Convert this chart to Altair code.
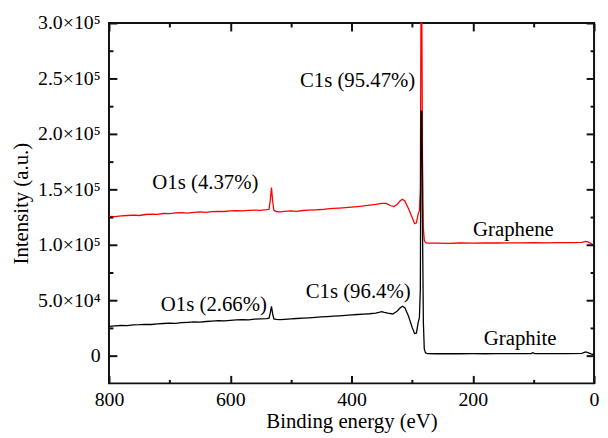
import altair as alt
import pandas as pd

# ---------------- data ----------------
ev_red = [800, 790, 780, 770, 760, 750, 740, 730, 720, 710, 700, 690, 680, 670, 660,
          650, 640, 630, 620, 610, 600, 590, 580, 570, 560, 550, 540, 536, 534, 532,
          530, 528, 524, 518, 510, 500, 490, 480, 470, 460, 450, 440, 430, 420, 410,
          400, 390, 380, 370, 360, 350, 343, 335, 330, 325, 320, 316, 312, 306, 300,
          296, 293, 290, 288, 286.5, 285.5, 284, 283, 281.5, 280, 278, 275, 260, 240,
          220, 200, 180, 160, 140, 120, 100, 80, 60, 40, 20, 14, 10, 5, 0]
int_red = [125500, 125300, 126000, 126400, 126700, 126400, 127300, 127700, 127400, 128200,
           128100, 128700, 128900, 128500, 129300, 129600, 129300, 129900, 130200, 130000,
           130600, 130800, 130500, 131100, 131300, 131000, 131600, 132000, 140000, 151500,
           139000, 131000, 130000, 129700, 130200, 130500, 130200, 130900, 131200, 131500,
           131800, 132400, 132800, 133100, 133500, 134000, 134500, 135100, 135700, 136400,
           137300, 137400, 135200, 134400, 136200, 139500, 141000, 139600, 132500, 124500,
           119000, 119800, 128000, 131000, 150000, 300000, 300000, 180000, 115000, 104000,
           102000, 101400, 101500, 101300, 101600, 101500, 101700, 101600, 101800, 101700,
           101900, 101800, 102000, 101900, 102100, 103000, 102600, 101000, 99500]

ev_black = [800, 790, 780, 770, 760, 750, 740, 730, 720, 710, 700, 690, 680, 670, 660,
            650, 640, 630, 620, 610, 600, 590, 580, 570, 560, 550, 540, 536, 534, 532,
            530, 528, 524, 518, 510, 500, 490, 480, 470, 460, 450, 440, 430, 420, 410,
            400, 390, 380, 370, 360, 350, 346, 340, 332, 325, 320, 316, 312, 306, 300,
            296, 293, 290, 288, 286.5, 285.5, 284, 283, 281.5, 280, 278, 275, 260, 240,
            220, 200, 180, 160, 140, 120, 104, 101, 98, 80, 60, 40, 20, 14, 10, 5, 0]
int_black = [26500, 26900, 27200, 27000, 27700, 27900, 28300, 28100, 28700, 29000,
             29400, 29200, 29800, 30100, 30400, 30200, 30800, 31100, 31500, 31300,
             31900, 32200, 32500, 32300, 32900, 33100, 33400, 33800, 38500, 44500,
             37500, 33200, 32700, 32500, 32800, 33100, 33500, 33800, 34100, 34500,
             34900, 35200, 35600, 35900, 36300, 36700, 37100, 37400, 37800, 38400,
             39600, 39000, 38300, 37600, 40000, 43000, 44500, 43200, 35500, 25500,
             20000, 20300, 30000, 34500, 60000, 220500, 220500, 120000, 30000, 6000,
             2500, 1800, 1700, 1900, 1700, 1800, 1700, 1900, 1800, 1900,
             1900, 2700, 1900, 1800, 1900, 1800, 2000, 3300, 2800, 1600, 800]

ann_text = ["C1s (95.47%)", "O1s (4.37%)", "O1s (2.66%)", "C1s (96.4%)"]
ann_ev = [390, 641, 627, 389]
ann_int = [247300, 156000, 45500, 57400]

name_text = ["Graphene", "Graphite"]
name_ev = [133, 122]
name_int = [113400, 14600]

x_major = [0, 200, 400, 600, 800]
x_minor = [100, 300, 500, 700]
y_major = [0, 50000, 100000, 150000, 200000, 250000, 300000]
y_minor = [25000, 75000, 125000, 175000, 225000, 275000]

# ---------------- tables ----------------
df_red = pd.DataFrame({"ev": ev_red, "inten": int_red})
df_black = pd.DataFrame({"ev": ev_black, "inten": int_black})
df_ann = pd.DataFrame({"ev": ann_ev, "inten": ann_int, "label": ann_text})
df_name = pd.DataFrame({"ev": name_ev, "inten": name_int, "label": name_text})

FONT = "Liberation Serif"
TICK = "#111111"

xs = alt.Scale(domain=[0, 800], reverse=True, nice=False)
ys = alt.Scale(domain=[-25000, 300000], nice=False)

y_label_expr = ("datum.value == 0 ? '0' : (datum.value < 100000 ? "
                "format(datum.value / 10000, '.1f') + '×10⁴' : "
                "format(datum.value / 100000, '.1f') + '×10⁵')")

def tick_axis(orient, values, size):
    return alt.Axis(orient=orient, values=values, tickSize=size, offset=-size,
                    labels=False, title=None, domain=False, grid=False,
                    tickColor=TICK, tickWidth=2, tickOpacity=1, zindex=1)

x_main = alt.Axis(orient="bottom", values=x_major, tickSize=8, offset=-8,
                  labelPadding=6, domain=False, grid=False, format="d",
                  labelFlush=False, labelOverlap=False,
                  title="Binding energy (eV)", titlePadding=2,
                  labelFont=FONT, labelFontSize=20, labelColor="black",
                  titleFont=FONT, titleFontSize=21, titleFontWeight="normal",
                  titleColor="black", tickColor=TICK, tickWidth=2, tickOpacity=1,
                  zindex=1)
y_main = alt.Axis(orient="left", values=y_major, tickSize=8, offset=-8,
                  labelPadding=9, domain=False, grid=False, labelExpr=y_label_expr,
                  labelFlush=False, labelOverlap=False,
                  title="Intensity (a.u.)", titlePadding=6,
                  labelFont=FONT, labelFontSize=20, labelColor="black",
                  titleFont=FONT, titleFontSize=21, titleFontWeight="normal",
                  titleColor="black", tickColor=TICK, tickWidth=2, tickOpacity=1,
                  zindex=1)

red = alt.Chart(df_red).mark_line(color="#ff0000", strokeWidth=1.3).encode(
    x=alt.X("ev:Q", scale=xs, axis=x_main),
    y=alt.Y("inten:Q", scale=ys, axis=y_main),
)
black = alt.Chart(df_black).mark_line(color="#000000", strokeWidth=1.3).encode(
    x=alt.X("ev:Q", scale=xs, axis=tick_axis("bottom", x_minor, 4)),
    y=alt.Y("inten:Q", scale=ys, axis=tick_axis("left", y_minor, 4)),
)
ann = alt.Chart(df_ann).mark_text(font=FONT, fontSize=21, color="black",
                                  align="center", baseline="middle").encode(
    x=alt.X("ev:Q", scale=xs, axis=tick_axis("top", x_major, 8)),
    y=alt.Y("inten:Q", scale=ys, axis=tick_axis("right", y_major, 8)),
    text="label:N",
)
names = alt.Chart(df_name).mark_text(font=FONT, fontSize=21, color="black",
                                     align="center", baseline="middle").encode(
    x=alt.X("ev:Q", scale=xs, axis=tick_axis("top", x_minor, 4)),
    y=alt.Y("inten:Q", scale=ys, axis=tick_axis("right", y_minor, 4)),
    text="label:N",
)

chart = alt.layer(red, black, ann, names).resolve_axis(
    x="independent", y="independent"
).properties(
    width=490, height=364,
    background="white",
    autosize=alt.AutoSizeParams(type="none"),
    padding={"left": 102, "top": 13, "right": 6, "bottom": 52},
).configure_view(stroke="#111111", strokeWidth=2, strokeOpacity=1)

chart.save("out.html", embed_options={"renderer": "svg", "actions": False})
